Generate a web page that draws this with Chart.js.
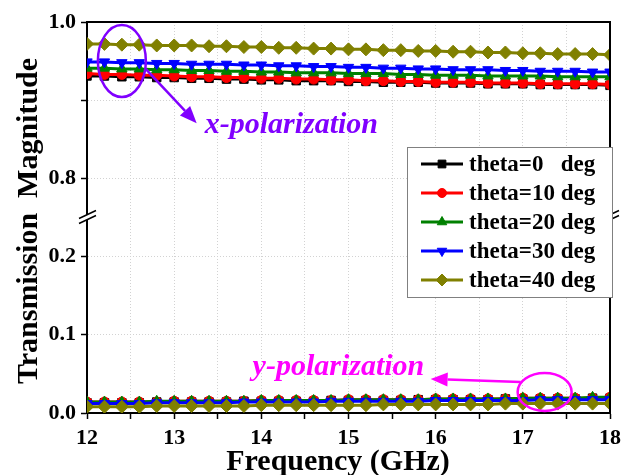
<!DOCTYPE html>
<html>
<head>
<meta charset="utf-8">
<script src="https://cdn.jsdelivr.net/npm/chart.js@4.4.1/dist/chart.umd.min.js"></script>
<style>
  html, body { margin: 0; padding: 0; background: #fff; }
</style>
</head>
<body>
<canvas id="c" width="627" height="475"></canvas>
<script>
// frequency points (GHz)
const freqs = [12.0, 12.2, 12.4, 12.6, 12.8, 13.0, 13.2, 13.4, 13.6, 13.8,
               14.0, 14.2, 14.4, 14.6, 14.8, 15.0, 15.2, 15.4, 15.6, 15.8,
               16.0, 16.2, 16.4, 16.6, 16.8, 17.0, 17.2, 17.4, 17.6, 17.8, 18.0];

const labels = ['theta=0   deg', 'theta=10 deg', 'theta=20 deg', 'theta=30 deg', 'theta=40 deg'];

// x-polarization transmission
const xPol0  = [.931,.931,.930,.930,.929,.929,.928,.928,.927,.927,.926,.926,.925,.925,.925,.924,.924,.923,.923,.923,.922,.922,.922,.921,.921,.921,.920,.920,.920,.920,.919];
const xPol10 = [.934,.933,.933,.932,.932,.931,.930,.930,.929,.929,.928,.928,.927,.927,.926,.926,.925,.925,.924,.924,.923,.923,.923,.922,.922,.922,.921,.921,.921,.921,.920];
const xPol20 = [.941,.941,.940,.940,.939,.939,.938,.938,.937,.937,.936,.936,.935,.935,.935,.934,.934,.934,.933,.933,.932,.932,.932,.931,.931,.931,.931,.930,.930,.930,.930];
const xPol30 = [.949,.949,.948,.948,.947,.947,.946,.946,.946,.945,.945,.944,.944,.943,.943,.942,.942,.941,.941,.940,.940,.939,.939,.939,.938,.938,.937,.937,.937,.936,.936];
const xPol40 = [.972,.972,.971,.971,.970,.970,.970,.969,.969,.968,.968,.967,.967,.966,.966,.965,.965,.964,.964,.963,.963,.962,.962,.961,.961,.960,.960,.959,.959,.959,.958];

// y-polarization transmission
const yPol0  = [.013,.013,.013,.013,.014,.014,.014,.014,.014,.015,.015,.015,.015,.015,.016,.016,.016,.016,.016,.017,.017,.017,.017,.017,.018,.018,.018,.018,.018,.019,.019];
const yPol10 = [.014,.014,.014,.014,.014,.015,.015,.015,.015,.015,.016,.016,.016,.016,.016,.017,.017,.017,.017,.017,.018,.018,.018,.018,.018,.019,.019,.019,.019,.019,.020];
const yPol20 = [.014,.014,.014,.014,.015,.015,.015,.015,.015,.015,.016,.016,.016,.016,.016,.017,.017,.017,.017,.017,.018,.018,.018,.018,.018,.019,.019,.019,.019,.020,.020];
const yPol30 = [.012,.012,.012,.012,.013,.013,.013,.013,.013,.014,.014,.014,.014,.014,.015,.015,.015,.015,.015,.015,.016,.016,.016,.016,.016,.016,.017,.017,.017,.017,.017];
const yPol40 = [.008,.008,.008,.008,.009,.009,.009,.009,.009,.009,.010,.010,.010,.010,.010,.010,.010,.011,.011,.011,.011,.011,.011,.011,.012,.012,.012,.012,.012,.012,.012];

// ticks
const xTicks = [12, 12.5, 13, 13.5, 14, 14.5, 15, 15.5, 16, 16.5, 17, 17.5, 18];
const xTickLabels = ['12', '', '13', '', '14', '', '15', '', '16', '', '17', '', '18'];
const topTicks = [0.8, 0.9, 1.0];
const topTickLabels = ['0.8', '', '1.0'];
const botTicks = [0, 0.05, 0.1, 0.15, 0.2];
const botTickLabels = ['0.0', '', '0.1', '', '0.2'];

const colors = ['#000000', '#ff0000', '#008000', '#0000ff', '#808000'];
const styles = ['rect', 'circle', 'triangle', 'triangle', 'rectRot'];
const rotations = [0, 0, 0, 180, 0];
const radii = [6, 5, 6, 6, 6.5];
const xSeries = [xPol0, xPol10, xPol20, xPol30, xPol40];
const ySeries = [yPol0, yPol10, yPol20, yPol30, yPol40];

const serif = "'Liberation Serif', 'Times New Roman', serif";

function makeSet(i, vals, axis) {
  return {
    label: labels[i],
    data: freqs.map((f, k) => ({ x: f, y: vals[k] })),
    yAxisID: axis,
    borderColor: colors[i],
    backgroundColor: colors[i],
    borderWidth: 3,
    pointStyle: styles[i],
    rotation: rotations[i],
    pointRadius: radii[i],
    pointBorderWidth: 1,
    order: 5 - i
  };
}

const datasets = [];
for (let i = 0; i < 5; i++) datasets.push(makeSet(i, xSeries[i], 'yTop'));
for (let i = 0; i < 5; i++) datasets.push(makeSet(i, ySeries[i], 'yBot'));

const gridOpts = {
  color: '#d2d2d2',
  lineWidth: 1,
  tickColor: '#000',
  tickWidth: 1.5,
  tickLength: 6,
  tickBorderDash: []
};
// in v4 border.dash styles the grid lines, the axis line stays solid
const borderOpts = { display: true, color: '#000', width: 2, dash: [1, 2] };
const tickFont = { family: serif, size: 22, weight: 'bold' };

function drawArrow(ctx, x1, y1, x2, y2, color) {
  const ang = Math.atan2(y2 - y1, x2 - x1);
  const hl = 17, hw = 7;
  const bx = x2 - hl * Math.cos(ang), by = y2 - hl * Math.sin(ang);
  ctx.strokeStyle = color; ctx.fillStyle = color; ctx.lineWidth = 2.5;
  ctx.beginPath(); ctx.moveTo(x1, y1); ctx.lineTo(bx, by); ctx.stroke();
  ctx.beginPath();
  ctx.moveTo(x2, y2);
  ctx.lineTo(bx + hw * Math.sin(ang), by - hw * Math.cos(ang));
  ctx.lineTo(bx - hw * Math.sin(ang), by + hw * Math.cos(ang));
  ctx.closePath(); ctx.fill();
}

const overlay = {
  id: 'overlay',
  afterDraw(chart) {
    const { ctx, chartArea: a, scales } = chart;
    const sx = scales.x, yt = scales.yTop, yb = scales.yBot;
    ctx.save();

    // frame top & right
    ctx.strokeStyle = '#000'; ctx.lineWidth = 2;
    ctx.beginPath();
    ctx.moveTo(a.left - 1, a.top); ctx.lineTo(a.right, a.top); ctx.lineTo(a.right, a.bottom);
    ctx.stroke();

    // axis break marks
    const yB = Math.max(yt.top, yb.top);
    [a.left, a.right].forEach(bx => {
      ctx.fillStyle = '#fff';
      ctx.beginPath();
      ctx.moveTo(bx - 8, yB + 1); ctx.lineTo(bx + 9, yB - 7);
      ctx.lineTo(bx + 9, yB - 2); ctx.lineTo(bx - 8, yB + 6);
      ctx.closePath(); ctx.fill();
      ctx.strokeStyle = '#000'; ctx.lineWidth = 1.5;
      ctx.beginPath();
      ctx.moveTo(bx - 8, yB + 1); ctx.lineTo(bx + 9, yB - 7);
      ctx.moveTo(bx - 8, yB + 6); ctx.lineTo(bx + 9, yB - 2);
      ctx.stroke();
    });

    // axis titles
    ctx.fillStyle = '#000';
    ctx.font = 'bold 30px ' + serif;
    ctx.textAlign = 'center'; ctx.textBaseline = 'alphabetic';
    ctx.fillText('Frequency (GHz)', 338, 470);
    ctx.save();
    ctx.translate(37, 221); ctx.rotate(-Math.PI / 2);
    ctx.fillText('Transmission  Magnitude', 0, 0);
    ctx.restore();

    // x-polarization annotation
    const purple = '#8000ff';
    const ex = sx.getPixelForValue(12.4), ey = yt.getPixelForValue(0.95);
    ctx.strokeStyle = purple; ctx.lineWidth = 2.5;
    ctx.beginPath(); ctx.ellipse(ex, ey, 24, 36, 0, 0, Math.PI * 2); ctx.stroke();
    const tx = sx.getPixelForValue(13.35), ty = yt.getPixelForValue(0.868);
    drawArrow(ctx, ex + 24, ey + 8, tx - 8, ty - 2, purple);
    ctx.fillStyle = purple;
    ctx.font = 'italic bold 30px ' + serif;
    ctx.textAlign = 'left'; ctx.textBaseline = 'middle';
    ctx.fillText('x-polarization', tx, ty);

    // y-polarization annotation
    const magenta = '#ff00ff';
    const mx = sx.getPixelForValue(17.25), my = yb.getPixelForValue(0.027);
    ctx.strokeStyle = magenta; ctx.lineWidth = 2.5;
    ctx.beginPath(); ctx.ellipse(mx, my, 27, 19, 0, 0, Math.PI * 2); ctx.stroke();
    const ux = sx.getPixelForValue(13.9), uy = yb.getPixelForValue(0.058);
    drawArrow(ctx, mx - 24, my - 10, ux + 178, my - 13, magenta);
    ctx.fillStyle = magenta;
    ctx.textAlign = 'left'; ctx.textBaseline = 'middle';
    ctx.fillText('y-polarization', ux, uy);

    // legend box
    const lx = 407, ly = a.top + 125, lw = 205, lh = 150;
    ctx.fillStyle = '#fff';
    ctx.fillRect(lx, ly, lw, lh);
    ctx.strokeStyle = '#808080'; ctx.lineWidth = 1;
    ctx.strokeRect(lx + 0.5, ly + 0.5, lw, lh);
    ctx.font = 'bold 23px ' + serif;
    ctx.textBaseline = 'middle';
    for (let i = 0; i < 5; i++) {
      const ry = ly + 17 + i * 29;
      ctx.strokeStyle = colors[i]; ctx.fillStyle = colors[i]; ctx.lineWidth = 3;
      ctx.beginPath(); ctx.moveTo(lx + 14, ry); ctx.lineTo(lx + 56, ry); ctx.stroke();
      ctx.lineWidth = 1;
      Chart.helpers.drawPoint(ctx, {
        pointStyle: styles[i], rotation: rotations[i], radius: radii[i] - 0.5, borderWidth: 1
      }, lx + 35, ry);
      ctx.fillStyle = '#000';
      ctx.fillText(labels[i], lx + 62, ry + 1);
    }
    ctx.restore();
  }
};

new Chart(document.getElementById('c'), {
  type: 'line',
  data: { datasets: datasets },
  options: {
    responsive: false,
    animation: false,
    layout: { padding: { top: 22, right: 16, bottom: 0, left: 0 } },
    plugins: { legend: { display: false }, tooltip: { enabled: false } },
    scales: {
      x: {
        type: 'linear', min: 12, max: 18,
        afterBuildTicks: s => { s.ticks = xTicks.map(v => ({ value: v })); },
        afterFit: s => { s.height = 62; },
        ticks: { color: '#000', font: tickFont, padding: 6, maxRotation: 0,
                 callback: (v, i) => xTickLabels[i] },
        grid: gridOpts,
        border: borderOpts
      },
      // stacked scales are placed in reverse order: the bottom one first
      yBot: {
        type: 'linear', position: 'left', stack: 'trans', stackWeight: 1,
        min: 0, max: 0.25,
        afterBuildTicks: s => { s.ticks = botTicks.map(v => ({ value: v })); },
        afterFit: s => { s.width = 87; },
        ticks: { color: '#000', font: tickFont, padding: 5,
                 callback: (v, i) => botTickLabels[i] },
        grid: gridOpts,
        border: borderOpts
      },
      yTop: {
        type: 'linear', position: 'left', stack: 'trans', stackWeight: 1,
        min: 0.75, max: 1.0,
        afterBuildTicks: s => { s.ticks = topTicks.map(v => ({ value: v })); },
        afterFit: s => { s.width = 87; },
        ticks: { color: '#000', font: tickFont, padding: 5,
                 callback: (v, i) => topTickLabels[i] },
        grid: gridOpts,
        border: borderOpts
      }
    }
  },
  plugins: [overlay]
});
</script>
</body>
</html>
